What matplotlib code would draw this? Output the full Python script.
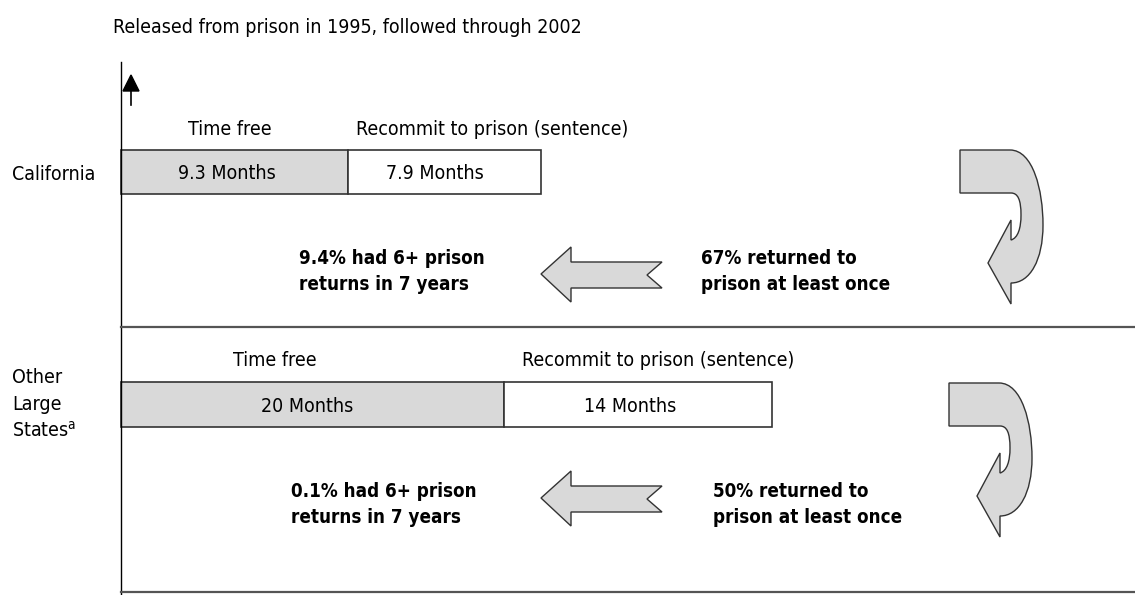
import matplotlib
matplotlib.use("Agg")
import matplotlib.pyplot as plt
from matplotlib import font_manager
from matplotlib.patches import Polygon, PathPatch
from matplotlib.path import Path

# pick a condensed face if there is one
names = {f.name for f in font_manager.fontManager.ttflist}
FONT = "Liberation Sans Narrow" if "Liberation Sans Narrow" in names else "DejaVu Sans"
plt.rcParams["font.family"] = [FONT, "DejaVu Sans"]
if FONT == "DejaVu Sans":
    plt.rcParams["font.stretch"] = "condensed"
plt.rcParams["mathtext.fontset"] = "custom"
plt.rcParams["mathtext.rm"] = FONT

# data
groups = ["California", "Other Large States"]
time_free = [9.3, 20]
recommit = [7.9, 14]
pct_returned = [67, 50]
pct_six_plus = [9.4, 0.1]

title = "Released from prison in 1995, followed through 2002"

GRAY = "#d9d9d9"
EDGE = "#333333"
FS = 14      # regular text
FB = 13.5    # bold call-outs
W, H = 1135, 595
fig = plt.figure(figsize=(W / 100, H / 100), dpi=100)

# bar panels: (bar top px, bar bottom px, px per month)
panels = [(150, 194, 24.4), (382, 427, 19.15)]
x0 = 121
for i, (top, bot, ppm) in enumerate(panels):
    ax = fig.add_axes([x0 / W, (H - bot) / H, (W - x0) / W, (bot - top) / H])
    ax.set_xlim(0, (W - x0) / ppm)
    ax.set_ylim(-0.5, 0.5)
    ax.axis("off")
    ax.barh(0, time_free[i], height=1, left=0, color=GRAY, edgecolor=EDGE,
            linewidth=1.2, clip_on=False)
    ax.barh(0, recommit[i], height=1, left=time_free[i], color="white",
            edgecolor=EDGE, linewidth=1.2, clip_on=False)
    ax.text(time_free[i] / 2 - 0.3, -0.17, f"{time_free[i]:g} Months", ha="center",
            va="baseline", fontsize=FS)
    ax.text(time_free[i] + recommit[i] / 2 - 0.4, -0.17, f"{recommit[i]:g} Months",
            ha="center", va="baseline", fontsize=FS)

# overlay in pixel coordinates for the annotations
ov = fig.add_axes([0, 0, 1, 1])
ov.set_xlim(0, W)
ov.set_ylim(H, 0)
ov.axis("off")

ov.text(113, 33, title, fontsize=FS, va="baseline", ha="left")

# axis line and small up arrow
ov.plot([x0, x0], [62, 595], color="black", lw=1)
ov.plot([131, 131], [88, 105], color="black", lw=1.2)
ov.add_patch(Polygon([[131, 75], [123, 91], [139, 91]], closed=True, color="black"))

# separators
ov.plot([x0, W], [327, 327], color="#555555", lw=1.6)
ov.plot([x0, W], [592, 592], color="#555555", lw=1.6)

ov.text(12, 180, groups[0], fontsize=FS, va="baseline")
ov.text(12, 383, "Other", fontsize=FS, va="baseline")
ov.text(12, 410, "Large", fontsize=FS, va="baseline")
ov.text(12, 437, r"States$^{\mathrm{a}}$", fontsize=FS, va="baseline")

free_x = [230, 275]
rec_x = [356, 522]
label_base = [135, 366]
bold_base = [264, 497]
left_x = [299, 291]
right_x = [701, 713]
arrow_dy = [0, 224]
curl_shift = [(0, 0), (-11, 233)]

for i in range(2):
    ov.text(free_x[i], label_base[i], "Time free", fontsize=FS, ha="center", va="baseline")
    ov.text(rec_x[i], label_base[i], "Recommit to prison (sentence)", fontsize=FS,
            ha="left", va="baseline")

    b = bold_base[i]
    ov.text(left_x[i], b, f"{pct_six_plus[i]:g}% had 6+ prison", fontsize=FB,
            fontweight="bold", va="baseline")
    ov.text(left_x[i], b + 26, "returns in 7 years", fontsize=FB,
            fontweight="bold", va="baseline")
    ov.text(right_x[i], b, f"{pct_returned[i]}% returned to", fontsize=FB,
            fontweight="bold", va="baseline")
    ov.text(right_x[i], b + 26, "prison at least once", fontsize=FB,
            fontweight="bold", va="baseline")

    # left-pointing block arrow
    d = arrow_dy[i]
    pts = [[541, 274], [571, 247], [571, 262], [662, 262], [647, 275],
           [662, 288], [571, 288], [571, 302]]
    ov.add_patch(Polygon([[x, y + d] for x, y in pts], closed=True,
                         facecolor=GRAY, edgecolor=EDGE, lw=1))

    # curled return arrow
    sx, sy = curl_shift[i]
    verts = [(960, 150), (1010, 150),
             (1033, 150), (1043, 190), (1043, 225),
             (1043, 260), (1030, 283), (1011, 283),
             (1011, 304), (988, 263), (1011, 220), (1011, 240),
             (1018, 238), (1021, 228), (1021, 215),
             (1021, 200), (1018, 193), (1011, 193),
             (960, 193), (960, 150)]
    codes = [Path.MOVETO, Path.LINETO,
             Path.CURVE4, Path.CURVE4, Path.CURVE4,
             Path.CURVE4, Path.CURVE4, Path.CURVE4,
             Path.LINETO, Path.LINETO, Path.LINETO, Path.LINETO,
             Path.CURVE4, Path.CURVE4, Path.CURVE4,
             Path.CURVE4, Path.CURVE4, Path.CURVE4,
             Path.LINETO, Path.CLOSEPOLY]
    path = Path([(x + sx, y + sy) for x, y in verts], codes)
    ov.add_patch(PathPatch(path, facecolor=GRAY, edgecolor=EDGE, lw=1))

fig.savefig("out.png", dpi=100)
